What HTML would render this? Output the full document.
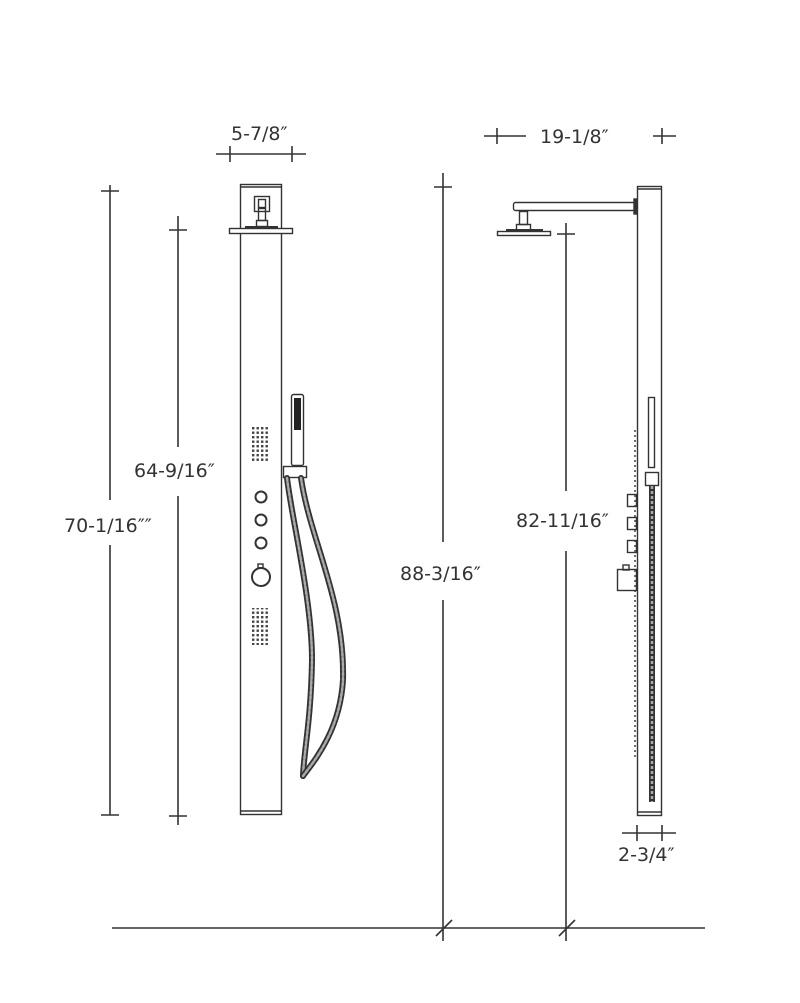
<!DOCTYPE html>
<html><head><meta charset="utf-8"><style>
html,body{margin:0;padding:0;background:#fff}
svg{display:block}
text{font-family:"DejaVu Sans","Liberation Sans",sans-serif;font-size:19px;fill:#333}
</style></head><body>
<svg width="800" height="1003" viewBox="0 0 800 1003" xmlns="http://www.w3.org/2000/svg">
<defs>
<pattern id="dots" x="252" y="427" width="4.5" height="4.5" patternUnits="userSpaceOnUse"><rect x="0" y="0" width="2.4" height="2.4" fill="#444"/></pattern>
</defs>
<g stroke="#333" stroke-width="1.6" fill="none">
<line x1="216" y1="154" x2="306" y2="154"/>
<line x1="230" y1="146" x2="230" y2="162"/>
<line x1="292" y1="146" x2="292" y2="162"/>
<line x1="110" y1="185" x2="110" y2="500"/>
<line x1="110" y1="545" x2="110" y2="815"/>
<line x1="101" y1="191" x2="119" y2="191"/>
<line x1="101" y1="815" x2="119" y2="815"/>
<line x1="178" y1="216" x2="178" y2="447"/>
<line x1="178" y1="496" x2="178" y2="825"/>
<line x1="169" y1="230" x2="187" y2="230"/>
<line x1="169" y1="816" x2="187" y2="816"/>
<line x1="443" y1="173" x2="443" y2="542"/>
<line x1="443" y1="600" x2="443" y2="941"/>
<line x1="434" y1="187" x2="452" y2="187"/>
<line x1="566" y1="223" x2="566" y2="491"/>
<line x1="566" y1="551" x2="566" y2="941"/>
<line x1="557" y1="234" x2="575" y2="234"/>
<line x1="112" y1="928" x2="705" y2="928"/>
<line x1="436" y1="936" x2="452" y2="920"/>
<line x1="559" y1="936" x2="575" y2="920"/>
<line x1="484" y1="136" x2="526" y2="136"/>
<line x1="653" y1="136" x2="676" y2="136"/>
<line x1="497" y1="128" x2="497" y2="144"/>
<line x1="662" y1="128" x2="662" y2="144"/>
<line x1="622" y1="833" x2="676" y2="833"/>
<line x1="637" y1="825" x2="637" y2="841"/>
<line x1="662" y1="825" x2="662" y2="841"/>
</g>
<text x="231" y="140">5-7/8″</text>
<text x="64" y="532">70-1/16″″</text>
<text x="134" y="477">64-9/16″</text>
<text x="400" y="580">88-3/16″</text>
<text x="516" y="527">82-11/16″</text>
<text x="540" y="143">19-1/8″</text>
<text x="618" y="861">2-3/4″</text>

<g stroke="#333" stroke-width="1.4" fill="none">
<rect x="240.5" y="184.5" width="41" height="630"/>
<line x1="240" y1="187" x2="282" y2="187"/>
<line x1="240" y1="811" x2="282" y2="811"/>
<rect x="254.5" y="196.5" width="15" height="15"/>
<rect x="258.5" y="199.5" width="7" height="8"/>
<rect x="258.5" y="208.5" width="7" height="12"/>
<rect x="256.5" y="220.5" width="11" height="6"/>
<rect x="229.5" y="228.5" width="63" height="5" fill="#fff"/>
<line x1="245" y1="227" x2="278" y2="227" stroke-width="2"/>
<circle cx="261" cy="497" r="5.5" stroke-width="2"/>
<circle cx="261" cy="520" r="5.5" stroke-width="2"/>
<circle cx="261" cy="543" r="5.5" stroke-width="2"/>
<circle cx="261" cy="577" r="9" stroke-width="2"/>
<rect x="258" y="564" width="5" height="4"/>
<rect x="291.5" y="394.5" width="12" height="71" rx="2"/>
<rect x="283.5" y="466.5" width="23" height="11"/>
</g>
<rect x="294" y="398" width="7" height="32" fill="#222"/>
<rect x="252" y="427" width="18" height="35" fill="url(#dots)"/>
<rect x="252" y="608" width="18" height="37" fill="url(#dots)"/>
<g fill="none" stroke-linecap="round">
<path d="M287 478 C292 520 312 600 312 660 C311 720 304 750 303 776" stroke="#333" stroke-width="6"/>
<path d="M287 478 C292 520 312 600 312 660 C311 720 304 750 303 776" stroke="#aaa" stroke-width="2.5" stroke-dasharray="3 2"/>
<path d="M301 478 C310 540 345 600 343 680 C340 730 315 760 303 776" stroke="#333" stroke-width="6"/>
<path d="M301 478 C310 540 345 600 343 680 C340 730 315 760 303 776" stroke="#aaa" stroke-width="2.5" stroke-dasharray="3 2"/>
</g>

<g stroke="#333" stroke-width="1.4" fill="none">
<rect x="637.5" y="186.5" width="24" height="629"/>
<line x1="637" y1="189" x2="662" y2="189"/>
<line x1="637" y1="812" x2="662" y2="812"/>
<rect x="513.5" y="202.5" width="122" height="8" rx="2"/>
<rect x="634" y="199" width="3" height="15" fill="#333"/>
<rect x="519.5" y="211.5" width="8" height="13"/>
<rect x="516.5" y="224.5" width="14" height="6"/>
<rect x="497.5" y="231.5" width="53" height="4"/>
<line x1="506" y1="230" x2="543" y2="230" stroke-width="2"/>
<rect x="627.5" y="494.5" width="9" height="12"/>
<rect x="627.5" y="517.5" width="9" height="12"/>
<rect x="627.5" y="540.5" width="9" height="12"/>
<rect x="617.5" y="569.5" width="19" height="21"/>
<rect x="623" y="565" width="6" height="5"/>
<rect x="648.5" y="397.5" width="6" height="70"/>
<rect x="645.5" y="472.5" width="13" height="13"/>
<line x1="635" y1="430" x2="635" y2="760" stroke-dasharray="2 3"/>
</g>
<g fill="none">
<line x1="652" y1="486" x2="652" y2="802" stroke="#333" stroke-width="6"/>
<line x1="652" y1="486" x2="652" y2="802" stroke="#aaa" stroke-width="2.5" stroke-dasharray="3 2"/>
</g>
</svg>
</body></html>
